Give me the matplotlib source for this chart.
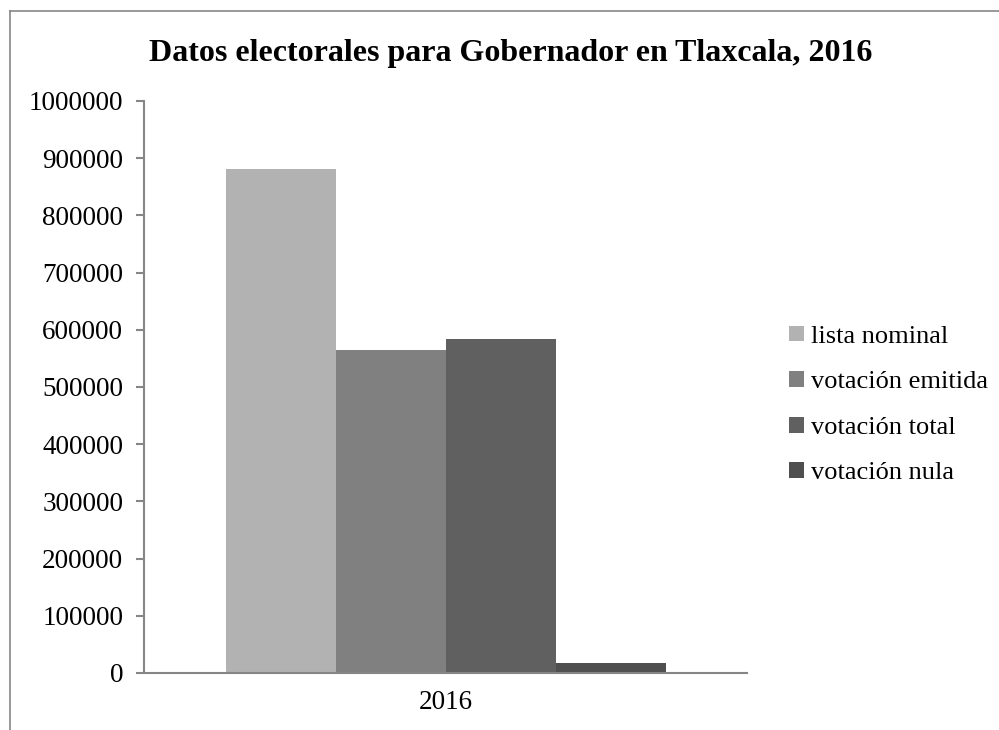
import numpy as np
import matplotlib.pyplot as plt
from matplotlib.lines import Line2D

plt.rcParams['font.family'] = ['Liberation Serif', 'DejaVu Serif']

# datos
categoria = ["2016"]
series = ["lista nominal", "votación emitida", "votación total", "votación nula"]
valores = [881000, 565000, 584000, 17500]
colores = ["#b2b2b2", "#808080", "#606060", "#4f4f4f"]
yticks = np.arange(0, 1000001, 100000)

W, H = 999, 730
fig = plt.figure(figsize=(W / 100, H / 100), dpi=100)
ax = fig.add_axes([144 / W, 1 - 673 / H, (747 - 144) / W, (673 - 101) / H])

ancho = 110 / 603
for i, (s, v, c) in enumerate(zip(series, valores, colores)):
    ax.bar((i - 1.5) * ancho, v, width=ancho, color=c, label=s)

ax.set_xlim(-0.5, 0.5)
ax.set_ylim(0, 1000000)
ax.set_yticks(yticks)
ax.set_yticklabels([str(t) for t in yticks], fontsize=19.5)
ax.set_xticks([0])
ax.set_xticklabels(categoria, fontsize=19.5)
ax.tick_params(axis='x', length=0, pad=12)
ax.tick_params(axis='y', length=6, width=1.5, color="#868686", pad=9)

for lado in ["top", "right"]:
    ax.spines[lado].set_visible(False)
for lado in ["left", "bottom"]:
    ax.spines[lado].set_color("#868686")
    ax.spines[lado].set_linewidth(1.5)

fig.text(511 / W, 1 - 53 / H, "Datos electorales para Gobernador en Tlaxcala, 2016",
         ha="center", va="center", fontsize=23, fontweight="bold")

ax.legend(loc="center left", bbox_to_anchor=(789 / W, 1 - 405 / H), bbox_transform=fig.transFigure,
          frameon=False, fontsize=19, handlelength=0.55, handleheight=0.55, handletextpad=0.3,
          labelspacing=0.88, borderaxespad=0, borderpad=0)

# marco recortado
fig.add_artist(Line2D([10 / W, 10 / W], [0, 1 - 11 / H], transform=fig.transFigure,
                      color="#868686", lw=1.2))
fig.add_artist(Line2D([10 / W, 1], [1 - 11 / H, 1 - 11 / H], transform=fig.transFigure,
                      color="#868686", lw=1.2))

fig.savefig("out.png", dpi=100)
